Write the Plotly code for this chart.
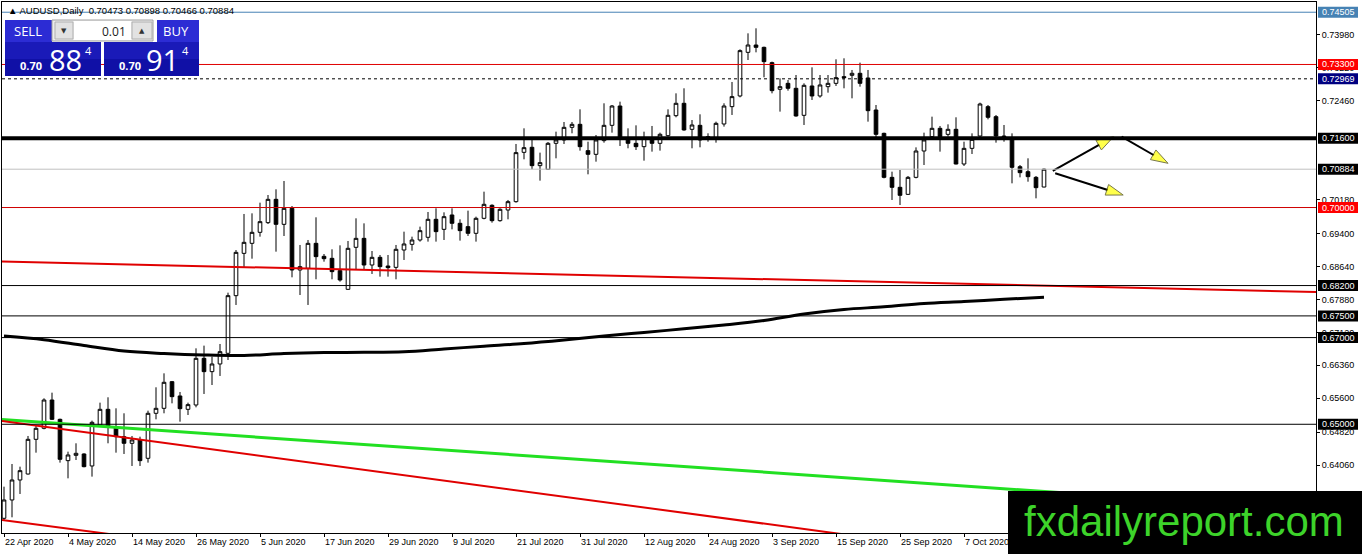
import plotly.graph_objects as go

# ---------------- data ----------------
bar_index = list(range(131))

opens = [0.62831, 0.63254, 0.63715, 0.63853, 0.64653, 0.64907, 0.65560, 0.65114, 0.64161, 0.64284,
         0.64315, 0.64038, 0.64984, 0.65345, 0.64945, 0.64714, 0.64561, 0.64638, 0.64215, 0.65253,
         0.65368, 0.65983, 0.65653, 0.65345, 0.65445, 0.66521, 0.66214, 0.66391, 0.66637, 0.67967,
         0.68943, 0.69174, 0.69428, 0.69651, 0.70189, 0.69612, 0.69981, 0.68559, 0.68598, 0.69174,
         0.68874, 0.68828, 0.68544, 0.68113, 0.69082, 0.69289, 0.68674, 0.68851, 0.68651, 0.68620,
         0.69020, 0.69151, 0.69251, 0.69313, 0.69728, 0.69497, 0.69828, 0.69636, 0.69559, 0.69405,
         0.69751, 0.70051, 0.69697, 0.69943, 0.70135, 0.71273, 0.71389, 0.70966, 0.70881, 0.71481,
         0.71558, 0.71850, 0.71919, 0.71312, 0.71227, 0.71543, 0.71896, 0.72342, 0.71573, 0.71481,
         0.71404, 0.71573, 0.71481, 0.71658, 0.72119, 0.72404, 0.71804, 0.71896, 0.71635, 0.71596,
         0.71927, 0.72327, 0.72573, 0.73580, 0.73749, 0.73695, 0.73342, 0.72727, 0.72865, 0.72750,
         0.72127, 0.72804, 0.72573, 0.72788, 0.72865, 0.73019, 0.73050, 0.73096, 0.72988, 0.72250,
         0.71711, 0.70696, 0.70466, 0.70304, 0.70696, 0.71304, 0.71635, 0.71827, 0.71688, 0.71804,
         0.71004, 0.71365, 0.71650, 0.72327, 0.72096, 0.71650, 0.71611, 0.70942, 0.70827, 0.70696,
         0.70473]
highs = [0.63561, 0.64084, 0.64022, 0.64730, 0.64984, 0.65599, 0.65729, 0.65130, 0.64368, 0.64561,
         0.64330, 0.65084, 0.65499, 0.65622, 0.65368, 0.65253, 0.64730, 0.64714, 0.65314, 0.65853,
         0.66175, 0.65999, 0.65745, 0.65499, 0.66752, 0.66814, 0.66560, 0.66852, 0.68036, 0.69020,
         0.69851, 0.69866, 0.70112, 0.70289, 0.70420, 0.70612, 0.70035, 0.69136, 0.69251, 0.69774,
         0.68928, 0.69036, 0.69128, 0.69228, 0.69751, 0.69635, 0.68997, 0.68905, 0.68905, 0.69136,
         0.69443, 0.69328, 0.69559, 0.69897, 0.69982, 0.69889, 0.69982, 0.69728, 0.69928, 0.69789,
         0.70366, 0.70074, 0.69982, 0.70174, 0.71466, 0.71827, 0.71596, 0.71266, 0.71512, 0.71750,
         0.71973, 0.71973, 0.72265, 0.71519, 0.71673, 0.72404, 0.72365, 0.72442, 0.71827, 0.71896,
         0.71750, 0.71881, 0.71727, 0.72265, 0.72634, 0.72750, 0.72019, 0.72150, 0.71712, 0.71981,
         0.72404, 0.72896, 0.73649, 0.74018, 0.74134, 0.73711, 0.73365, 0.72980, 0.72942, 0.73057,
         0.72865, 0.73234, 0.73057, 0.73057, 0.73419, 0.73442, 0.73173, 0.73342, 0.73173, 0.72365,
         0.71727, 0.70827, 0.70866, 0.70727, 0.71388, 0.71727, 0.72096, 0.71881, 0.71919, 0.72081,
         0.71519, 0.71711, 0.72419, 0.72365, 0.72134, 0.71904, 0.71711, 0.70981, 0.71135, 0.70727,
         0.70898]
lows = [0.62792, 0.62854, 0.63392, 0.63840, 0.64345, 0.64884, 0.65099, 0.64115, 0.63753, 0.64176,
        0.64007, 0.63792, 0.64945, 0.64561, 0.64345, 0.64315, 0.64038, 0.64038, 0.64115, 0.65114,
        0.65253, 0.65483, 0.65060, 0.65214, 0.65391, 0.65699, 0.65906, 0.66114, 0.66483, 0.67752,
        0.68620, 0.68820, 0.69328, 0.69620, 0.68982, 0.69343, 0.68390, 0.67982, 0.67752, 0.68344,
        0.68751, 0.68344, 0.68290, 0.68098, 0.68574, 0.68574, 0.68467, 0.68405, 0.68405, 0.68344,
        0.68790, 0.69005, 0.69213, 0.69213, 0.69213, 0.69251, 0.69497, 0.69236, 0.69344, 0.69213,
        0.69728, 0.69651, 0.69674, 0.69728, 0.70112, 0.71112, 0.70881, 0.70620, 0.70870, 0.71135,
        0.71466, 0.71712, 0.71312, 0.70766, 0.71058, 0.71496, 0.71727, 0.71420, 0.71366, 0.71327,
        0.71081, 0.71289, 0.71312, 0.71635, 0.72081, 0.71773, 0.71366, 0.71389, 0.71519, 0.71496,
        0.71866, 0.72135, 0.72542, 0.73403, 0.73580, 0.73004, 0.72634, 0.72212, 0.72696, 0.72096,
        0.71904, 0.72481, 0.72534, 0.72650, 0.72804, 0.72750, 0.72519, 0.72788, 0.71981, 0.71558,
        0.70673, 0.70174, 0.70058, 0.70289, 0.70673, 0.70981, 0.71558, 0.71289, 0.71635, 0.70995,
        0.70958, 0.71235, 0.71635, 0.72034, 0.71496, 0.71519, 0.70558, 0.70696, 0.70596, 0.70212,
        0.70466]
closes = [0.63254, 0.63715, 0.63930, 0.64653, 0.64907, 0.65560, 0.65114, 0.64192, 0.64292, 0.64330,
          0.64022, 0.65045, 0.65345, 0.64960, 0.64714, 0.64561, 0.64638, 0.64161, 0.65253, 0.65368,
          0.65968, 0.65637, 0.65360, 0.65453, 0.66521, 0.66214, 0.66391, 0.66675, 0.67967, 0.68966,
          0.69197, 0.69428, 0.69674, 0.70189, 0.69612, 0.69981, 0.68559, 0.68636, 0.69174, 0.68867,
          0.68820, 0.68521, 0.68328, 0.69059, 0.69289, 0.68674, 0.68851, 0.68636, 0.68613, 0.69036,
          0.69159, 0.69251, 0.69466, 0.69728, 0.69444, 0.69789, 0.69636, 0.69467, 0.69405, 0.69751,
          0.70074, 0.69697, 0.69959, 0.70135, 0.71266, 0.71381, 0.70966, 0.71035, 0.71481, 0.71558,
          0.71850, 0.71919, 0.71404, 0.71227, 0.71558, 0.71896, 0.72342, 0.71596, 0.71481, 0.71404,
          0.71596, 0.71481, 0.71689, 0.72127, 0.72404, 0.71789, 0.71904, 0.71558, 0.71604, 0.71942,
          0.72342, 0.72558, 0.73619, 0.73749, 0.73695, 0.73365, 0.72696, 0.72788, 0.72750, 0.72112,
          0.72819, 0.72573, 0.72827, 0.72865, 0.72996, 0.72996, 0.73096, 0.72865, 0.72234, 0.71688,
          0.70696, 0.70466, 0.70281, 0.70696, 0.71304, 0.71558, 0.71827, 0.71635, 0.71804, 0.71004,
          0.71365, 0.71573, 0.72388, 0.72081, 0.71650, 0.71635, 0.70927, 0.70804, 0.70712, 0.70458,
          0.70884]

# moving average, read every 5 bars
ma_index = list(range(0, 131, 5))
ma_values = [0.67036, 0.66951, 0.66817, 0.66690, 0.66633, 0.66598, 0.66587, 0.66633, 0.66656,
             0.66660, 0.66674, 0.66737, 0.66801, 0.66863, 0.66944, 0.67036, 0.67117, 0.67203,
             0.67290, 0.67394, 0.67544, 0.67648, 0.67710, 0.67786, 0.67832, 0.67883, 0.67929]

date_ticks = list(range(0, 121, 8))
date_labels = ["22 Apr 2020", "4 May 2020", "14 May 2020", "26 May 2020", "5 Jun 2020",
               "17 Jun 2020", "29 Jun 2020", "9 Jul 2020", "21 Jul 2020", "31 Jul 2020",
               "12 Aug 2020", "24 Aug 2020", "3 Sep 2020", "15 Sep 2020", "25 Sep 2020",
               "7 Oct 2020"]

# price scale labels (0.71700 and 0.70940 sit fully under the level tags)
price_ticks = [0.7398, 0.7322, 0.7246, 0.7018, 0.6940, 0.6864, 0.6788,
               0.6712, 0.6636, 0.6560, 0.6482, 0.6406]
price_tick_labels = ["%.5f" % p for p in price_ticks]

# horizontal levels drawn on the chart
level_prices = [0.74505, 0.73300, 0.72969, 0.71600, 0.70884, 0.70000, 0.68200, 0.67500, 0.67000, 0.65000]
level_labels = ["%.5f" % p for p in level_prices]

# trend lines: (bar, price) at both ends
trend_red_top_x, trend_red_top_y = [-0.25, 164], [0.68755, 0.68052]
trend_green_x, trend_green_y = [-0.25, 164], [0.65110, 0.63018]
trend_red_mid_x, trend_red_mid_y = [-0.25, 164], [0.65076, 0.60993]
trend_red_low_x, trend_red_low_y = [-0.25, 164], [0.62792, 0.58824]

# projection arrows
arrow_up_x, arrow_up_y = [131.1, 138.7], [0.70843, 0.71634]
arrow_down_x, arrow_down_y = [139.7, 145.5], [0.71634, 0.71020]
arrow_low_x, arrow_low_y = [131.4, 139.9], [0.70790, 0.70289]

header_text = "\u25b2 AUDUSD,Daily  0.70473 0.70898 0.70466 0.70884"

# ---------------- styling helpers ----------------
FONT = "Liberation Sans, Arial, DejaVu Sans"
W, H = 1362, 554
PL, PR, PT, PB = 2, 1316, 2, 533   # plot area in pixels


def px(x):
    return (x - PL) / (PR - PL)


def py(y):
    return (PB - y) / (PB - PT)


level_styles = [
    dict(color="#4682b4", width=1),
    dict(color="#e00000", width=1),
    dict(color="black", width=1, dash="3px,3px"),
    dict(color="black", width=4),
    dict(color="#c0c0c0", width=1),
    dict(color="#d00000", width=1),
    dict(color="black", width=1),
    dict(color="black", width=1),
    dict(color="black", width=1),
    dict(color="black", width=1),
]
label_bg = ["#4682b4", "#ff0000", "#000080", "black", "black", "#ff0000",
            "black", "black", "black", "black"]

fig = go.Figure()

fig.add_trace(go.Candlestick(
    x=bar_index, open=opens, high=highs, low=lows, close=closes,
    increasing=dict(line=dict(color="black", width=1), fillcolor="white"),
    decreasing=dict(line=dict(color="black", width=1), fillcolor="black"),
    whiskerwidth=0, hoverinfo="skip"))

fig.add_trace(go.Scatter(x=ma_index, y=ma_values, mode="lines",
                         line=dict(color="black", width=3, shape="spline"), hoverinfo="skip"))

for tx, ty, col, w in [(trend_red_top_x, trend_red_top_y, "#e00000", 2),
                       (trend_green_x, trend_green_y, "#22e022", 3),
                       (trend_red_mid_x, trend_red_mid_y, "#e00000", 2),
                       (trend_red_low_x, trend_red_low_y, "#e00000", 2)]:
    fig.add_trace(go.Scatter(x=tx, y=ty, mode="lines", line=dict(color=col, width=w),
                             hoverinfo="skip"))

for ax_, ay_ in [(arrow_up_x, arrow_up_y), (arrow_down_x, arrow_down_y), (arrow_low_x, arrow_low_y)]:
    fig.add_trace(go.Scatter(
        x=ax_, y=ay_, mode="lines+markers", line=dict(color="black", width=2),
        marker=dict(symbol="arrow", size=[0, 18], angleref="previous", color="#ffff00",
                    line=dict(color="#404000", width=1)),
        hoverinfo="skip"))

shapes = []
for lvl, st in zip(level_prices, level_styles):
    shapes.append(dict(type="line", xref="paper", x0=0, x1=1, yref="y", y0=lvl, y1=lvl,
                       line=st, layer="above"))

annotations = []
half_h = 5.5 / 4335
for lvl, lab, bg in zip(level_prices, level_labels, label_bg):
    shapes.append(dict(type="rect", xref="paper", x0=px(1318), x1=px(1358), yref="y",
                       y0=lvl - half_h, y1=lvl + half_h, fillcolor=bg, line=dict(width=0)))
    annotations.append(dict(xref="paper", x=px(1338), yref="y", y=lvl, text=lab,
                            showarrow=False, xanchor="center", yanchor="middle",
                            font=dict(family=FONT, size=9, color="white")))

# one-click trading panel (top left)
def rect(x0, y0, x1, y1, fill, border=None):
    shapes.append(dict(type="rect", xref="paper", yref="paper",
                       x0=px(x0), x1=px(x1), y0=py(y1), y1=py(y0), fillcolor=fill,
                       line=dict(width=1 if border else 0, color=border or fill)))


def label(x, y, text, size, color="white", anchor="center", family="Open Sans, " + FONT):
    annotations.append(dict(xref="paper", yref="paper", x=px(x), y=py(y), text=text,
                            showarrow=False, xanchor=anchor, yanchor="middle",
                            font=dict(family=family, size=size, color=color)))


rect(5, 20, 52, 42, "#2c2cd4")
rect(157, 20, 199, 42, "#2c2cd4")
rect(52, 20, 153, 41, "#ececec", "#a0a0a0")
rect(55, 22, 73, 39, "#e2e2e2", "#b0b0b0")
rect(74, 21, 131, 40, "white")
rect(132, 22, 152, 39, "#e2e2e2", "#b0b0b0")
rect(5, 42, 101, 76, "#1a1ab8")
rect(104, 42, 199, 76, "#1a1ab8")
rect(5, 59, 101, 76, "#1010a6")
rect(104, 59, 199, 76, "#1010a6")

label(28, 31, "SELL", 13)
label(176, 31, "BUY", 13)
label(128, 31, "0.01", 12, "#222222", "right")
label(64, 31, "\u25bc", 7, "#333333", family="DejaVu Sans")
label(142, 31, "\u25b2", 7, "#333333", family="DejaVu Sans")
label(31, 65, "<b>0.70</b>", 11)
label(65, 59, "88", 29)
label(88.5, 51, "4", 11)
label(129.5, 65, "<b>0.70</b>", 11)
label(162, 59, "91", 29)
label(185.5, 51, "4", 11)

label(6, 10, header_text, 9.5, "black", "left", family=FONT + ", DejaVu Sans")

# watermark
rect(1008, 491, 1362, 554, "black")
label(1184, 521, "fxdailyreport.com", 42, "#3dd32a", family="Liberation Sans, Arial")

fig.update_layout(
    width=W, height=H,
    margin=dict(l=PL, r=W - PR, t=PT, b=H - PB, pad=0),
    paper_bgcolor="white", plot_bgcolor="white",
    showlegend=False, boxgap=0.35,
    shapes=shapes, annotations=annotations,
    font=dict(family=FONT, size=9, color="black"),
    xaxis=dict(range=[-0.25, 164], tickvals=date_ticks, ticktext=date_labels,
               ticks="outside", ticklen=3, tickcolor="black", ticklabelposition="outside right",
               showline=True, linecolor="black", linewidth=1, mirror=True,
               showgrid=False, zeroline=False, rangeslider=dict(visible=False),
               tickfont=dict(family=FONT, size=9, color="black")),
    yaxis=dict(range=[0.62492, 0.74741], side="right", tickvals=price_ticks,
               ticktext=price_tick_labels, ticks="outside", ticklen=3, tickcolor="black",
               showline=True, linecolor="black", linewidth=1, mirror=True,
               showgrid=False, zeroline=False,
               tickfont=dict(family=FONT, size=9, color="black")),
)

# the page body has a default margin; drop it so the figure fills the window
fig.write_html("out.html", config={"displayModeBar": False},
               post_script="document.body.style.margin='0';document.body.style.overflow='hidden';")
